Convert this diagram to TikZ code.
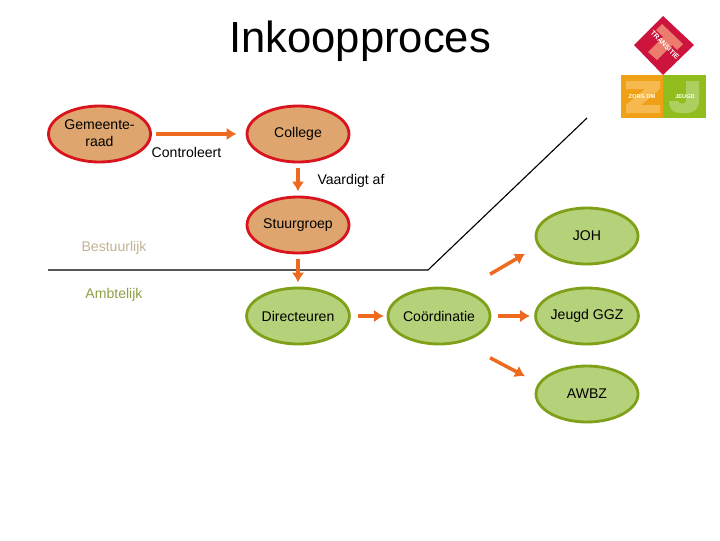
\documentclass[tikz,border=0pt]{standalone}
\usepackage{fontspec}
\setmainfont{Liberation Sans}
\newfontfamily\logofont[Kerning=Off]{Liberation Sans}
\usetikzlibrary{shapes.geometric,arrows.meta}
\definecolor{bestuurfill}{RGB}{222,166,110}
\definecolor{bestuurrand}{RGB}{218,20,30}
\definecolor{bestuurtekst}{RGB}{196,178,150}
\definecolor{ambtfill}{RGB}{181,210,122}
\definecolor{ambtrand}{RGB}{128,160,25}
\definecolor{ambttekst}{RGB}{140,160,70}
\definecolor{pijl}{RGB}{238,106,30}
\definecolor{logorood}{RGB}{205,20,60}
\definecolor{logoroze}{RGB}{236,125,110}
\definecolor{logooranje}{RGB}{240,160,20}
\definecolor{logolicht}{RGB}{245,185,80}
\definecolor{logogroen}{RGB}{145,190,30}
\definecolor{logomint}{RGB}{172,207,95}
\tikzset{
  bestuur/.style={ellipse, draw=bestuurrand, fill=bestuurfill, line width=2pt, minimum width=102*0.025cm, minimum height=56*0.025cm, inner sep=0pt, align=center, font=\fontsize{10}{12}\selectfont},
  ambt/.style={bestuur, draw=ambtrand, fill=ambtfill},
  pijlen/.style={draw=pijl, line width=2.5pt, -{Latex[length=7pt,width=9pt]}},
  tekst/.style={font=\fontsize{10}{12}\selectfont},
  logotekst/.style={font=\fontsize{4}{5}\selectfont\bfseries, text=white},
}
\begin{document}
\begin{tikzpicture}[x=0.025cm, y=-0.025cm]
    \useasboundingbox (0,0) rectangle (720,540);

    % titel
    \node[font=\fontsize{31}{36}\selectfont] (titel) at (360,41) {Inkoopproces};

    % scheidingslijn
    \coordinate (lijnstart) at (48,270);
    \coordinate (lijnknik) at (428,270);
    \coordinate (lijneind) at (587,118);
    \draw[line width=0.8pt] (lijnstart) -- (lijnknik) -- (lijneind);

    % bestuurlijk
    \node[bestuur] (gemeenteraad) at (99.5,134) {\raisebox{1.5pt}{Gemeente-}\\\raisebox{1.5pt}{raad}};
    \node[bestuur] (college) at (298,134) {College};
    \node[bestuur] (stuurgroep) at (298,225) {Stuurgroep};

    % ambtelijk
    \node[ambt] (directeuren) at (298,316) {Directeuren};
    \node[ambt] (coordinatie) at (439,316) {Coördinatie};
    \node[ambt] (joh) at (587,236) {JOH};
    \node[ambt] (jeugdggz) at (587,316) {Jeugd GGZ};
    \node[ambt] (awbz) at (587,394) {AWBZ};

    % pijlen
    \draw[pijlen, shorten <=3pt, shorten >=6.5pt] (gemeenteraad) -- (college);
    \draw[pijlen, shorten <=3pt, shorten >=3pt] (college) -- (stuurgroep);
    \draw[pijlen, shorten <=3pt, shorten >=3pt] (stuurgroep) -- (directeuren);
    \draw[pijlen, shorten <=5pt, shorten >=2pt] (directeuren) -- (coordinatie);
    \draw[pijlen, shorten <=5pt, shorten >=3pt] (coordinatie) -- (jeugdggz);
    \draw[pijlen] ([shift={(14,-21)}]coordinatie.north east) -- ([shift={(-25,-3)}]joh.south west);
    \draw[pijlen] ([shift={(14,21)}]coordinatie.south east) -- ([shift={(-25,3)}]awbz.north west);

    % losse teksten
    \node[tekst] (controleert) at (186.5,152) {Controleert};
    \node[tekst] (vaardigt) at (351,181) {Vaardigt af};
    \node[tekst, text=bestuurtekst] (bestuurlijk) at (114,248) {Bestuurlijk};
    \node[tekst, text=ambttekst] (ambtelijk) at (114,295) {Ambtelijk};

    % logo
    \fill[logorood] (663,16) -- (694,45) -- (663,75) -- (634,45) -- cycle;
    \fill[logoroze] (662,24) -- (683,44) -- (677,50) -- (672,45) -- (657,60) -- (648,52) -- (663,37) -- (656,30) -- cycle;
    \fill[logooranje] (621,75) rectangle (663,118);
    \fill[logogroen] (663,75) rectangle (706,118);
    \fill[logolicht] (626,81) -- (660,81) -- (660,89) -- (641,105) -- (660,105) -- (660,113) -- (626,113) -- (626,105) -- (645,89) -- (626,89) -- cycle;
    \fill[logomint] (686,81) -- (699,81) -- (699,101) .. controls (699,109) and (694,113) .. (686,113) -- (680,113) .. controls (673,113) and (669,109) .. (669,101) -- (678,101) .. controls (678,104) and (686,105) .. (686,101) -- cycle;
    \node[font=\logofont\fontsize{5}{6}\selectfont\bfseries, text=white, rotate=-45] (logotransitie) at (665,45) {TRANSITIE};
    \node[logotekst] (logozorg) at (642,97) {ZORG DM};
    \node[logotekst] (logojeugd) at (685,97) {JEUGD};
\end{tikzpicture}
\end{document}
